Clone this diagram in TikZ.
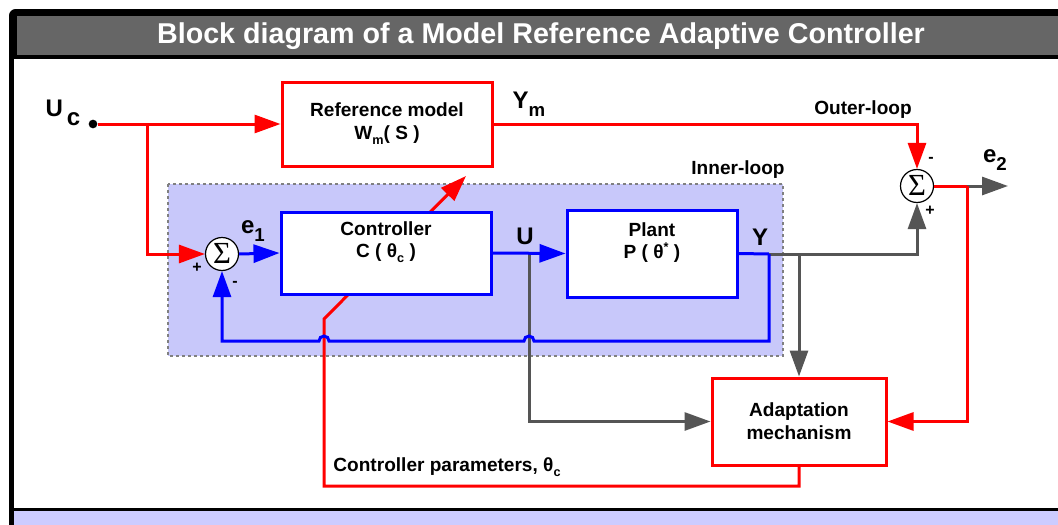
\documentclass[tikz,border=0pt]{standalone}
\usepackage{fontspec}
\setmainfont{Liberation Sans}
\newfontfamily\sigmafont{Liberation Serif}
\usetikzlibrary{arrows.meta}

\definecolor{titlegray}{HTML}{666666}
\definecolor{bandblue}{HTML}{CCCCFF}
\definecolor{loopfill}{HTML}{C8C8FA}
\definecolor{wire}{HTML}{555555}
\definecolor{sigred}{HTML}{FF0000}
\definecolor{sigblue}{HTML}{0000FF}

% lowered / raised small indices inside the block texts
\newcommand{\lowidx}[1]{\raisebox{-0.45ex}{\fontsize{9.5}{10}\selectfont #1}}
\newcommand{\highidx}[1]{\raisebox{0.75ex}{\fontsize{9.5}{10}\selectfont #1}}
\newcommand{\bigidx}[1]{\raisebox{-6pt}{\fontsize{14}{15}\selectfont #1}}

\begin{document}
\begin{tikzpicture}[x=0.75pt,y=-0.75pt,
  font=\bfseries,
  tip/.style={-{Triangle[length=19.5pt,width=13.5pt]}},
  redline/.style={draw=sigred,line width=2.25pt},
  blueline/.style={draw=sigblue,line width=2.25pt},
  wireline/.style={draw=wire,line width=2.25pt},
  redsig/.style={redline,tip},
  bluesig/.style={blueline,tip},
  wiresig/.style={wireline,tip},
  blk/.style={draw,line width=2.25pt,fill=white,inner sep=0pt},
  blktext/.style={align=center,font=\bfseries\fontsize{14.3}{17}\selectfont},
  sumnode/.style={circle,draw=black,line width=0.9pt,fill=white,minimum size=24.75pt,inner sep=0pt,
                  font=\sigmafont\fontsize{23}{23}\selectfont},
  biglbl/.style={font=\bfseries\fontsize{18}{18}\selectfont},
  sign/.style={font=\bfseries\fontsize{12}{12}\selectfont},
]
\useasboundingbox (0,0) rectangle (1058,525);

% ---------- slide frame ----------
\begin{scope}
  \clip (0,0) rectangle (1058,525);
  \fill[black,rounded corners=5] (9,9) rectangle (1080,560);
  \fill[titlegray] (17,16) rectangle (1080,55);
  \fill[white] (14,59) rectangle (1080,508);
  \fill[bandblue] (14,511) rectangle (1080,560);
\end{scope}
\node[text=white,font=\bfseries\fontsize{21.5}{24}\selectfont] (title) at (541,36)
  {Block diagram of a Model Reference Adaptive Controller};

% ---------- inner loop region ----------
\fill[loopfill] (168,184) rectangle (783,356);
\draw[gray,line width=1pt,dash pattern=on 2.5pt off 2pt] (168,184) rectangle (783,356);
\node[blktext,anchor=center] (innerlbl) at (738,170) {Inner-loop};

% ---------- placement of blocks (drawn later, above the wires) ----------
\coordinate (refc) at (387,124);
\coordinate (ctrlc) at (386,253);
\coordinate (plantc) at (652,253.5);
\coordinate (adaptc) at (799,421.5);

\node[blk,draw=sigred,minimum width=157.5pt,minimum height=63pt] (ref) at (refc) {};
\node[sumnode] (sum1) at (222,254) {\raisebox{0.5pt}{Σ}};
\node[sumnode] (sum2) at (917,186) {\raisebox{0.5pt}{Σ}};
\node[blk,draw=sigred,minimum width=130.5pt,minimum height=65.25pt] (adapt) at (adaptc) {};

% branch points
\node[circle,fill=black,inner sep=0pt,minimum size=6.5pt] (ucdot) at (93,124) {};
\coordinate (ucbr) at (147,124);
\coordinate (ubr) at (529,254);
\coordinate (ybr) at (769,254);
\coordinate (ybr2) at (799,254);
\coordinate (e2br) at (967,186);
\coordinate (e2end) at (1008,186);
\coordinate (fbr) at (769,341);
\coordinate (fbl) at (222,341);
\coordinate (pcorner) at (324,486);
\coordinate (pbend) at (324,319);
\coordinate (ptip) at (466,176);

% ---------- controller parameter line (passes behind the controller) ----------
\draw[redsig] (adapt.south) |- (pcorner) -- (pbend) -- (ptip);

% ---------- wires ----------
\draw[redsig] (ucdot) -- (ref.west);
\draw[redsig] (ucbr) |- (sum1.west);
\draw[redsig] (ref.east) -| (sum2.north);
\draw[redline] (sum2.east) -- (e2br);
\draw[wiresig] (e2br) -- (e2end);
\draw[redsig] (e2br) |- (adapt.east);

\draw[wiresig] (ubr) |- (adapt.west);
\draw[wiresig] (ybr) -| (sum2.south);
\draw[wiresig] (ybr2) -- (adapt.north);

% feedback with line jumps over the crossing wires
\draw[bluesig] (ybr) -- (fbr) -- (534,341) arc (0:-180:5) -- (329,341) arc (0:-180:5)
  -- (fbl) -- (sum1.south);

% ---------- blocks ----------
\node[blk,draw=sigblue,minimum width=157.5pt,minimum height=61.5pt] (ctrl) at (ctrlc) {};
\node[blk,draw=sigblue,minimum width=127.5pt,minimum height=65.25pt] (plant) at (plantc) {};

\draw[bluesig] (sum1.east) -- (ctrl.west);
\draw[bluesig] (ctrl.east) -- (plant.west);
\draw[blueline] (plant.east) -- (ybr);

% ---------- block texts ----------
\node[blktext] (reftxt) at (387,123.5) {Reference model\\W\lowidx{m}( S )};
\node[blktext] (ctrltxt) at (386,242) {Controller\\C ( θ\lowidx{c} )};
\node[blktext] (planttxt) at (652,242.5) {Plant\\P ( θ\highidx{*} )};
\node[blktext] (adapttxt) at (799,421) {Adaptation\\mechanism};

% ---------- signal labels ----------
\node[biglbl] (uclbl) at (63,113) {U\hspace{3pt}\raisebox{-7pt}{c}};
\node[biglbl] (ymlbl) at (529,104) {Y\bigidx{m}};
\node[biglbl] (ulbl) at (525,236) {U};
\node[biglbl] (ylbl) at (760,237) {Y};
\node[biglbl] (e1lbl) at (253,231) {e\bigidx{1}};
\node[biglbl] (e2lbl) at (995,160) {e\bigidx{2}};
\node[blktext] (outerlbl) at (863,110) {Outer-loop};
\node[blktext] (paramlbl) at (447,467) {Controller parameters, θ\lowidx{c}};

\node[sign] (s1p) at (197,268) {+};
\node[sign] (s1m) at (235,284) {-};
\node[sign] (s2m) at (931,160) {-};
\node[sign] (s2p) at (930,211) {+};
\end{tikzpicture}
\end{document}
